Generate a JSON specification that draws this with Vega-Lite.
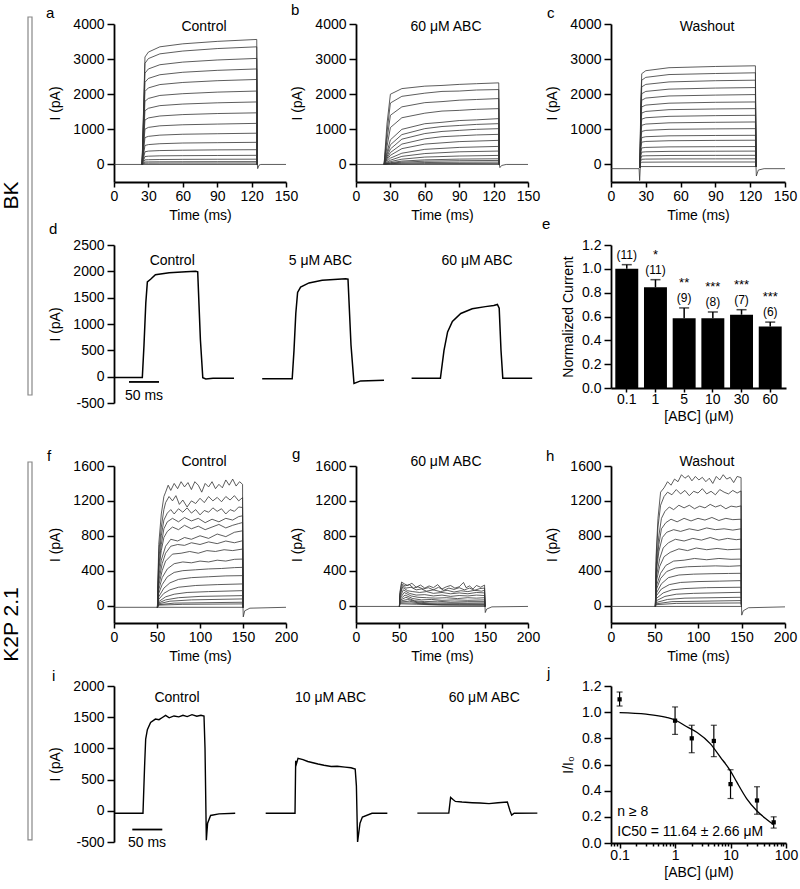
{
"$schema":"https://vega.github.io/schema/vega-lite/v6.json",
"padding":{"left":0,"top":3,"right":2,"bottom":2},
"background":"white",
"config":{
 "view":{"stroke":null},
 "font":"Liberation Sans",
 "axis":{"grid":false,"labelOverlap":false,"labelFlush":false,"domainColor":"#000","domainWidth":1.8,"tickColor":"#000","tickWidth":1.5,"tickSize":6,"labelColor":"#000","labelFont":"Liberation Sans","labelFontSize":14,"titleFont":"Liberation Sans","titleFontSize":14,"titleFontWeight":"normal","titleColor":"#000","labelPadding":2,"titlePadding":5},
 "axisX":{"tickSize":5},
 "axisY":{"tickSize":7,"labelPadding":3,"titlePadding":10},
 "title":{"font":"Liberation Sans","fontSize":15,"fontWeight":"normal","anchor":"start","frame":"group","color":"#000"},
 "text":{"font":"Liberation Sans","fontSize":14,"color":"#000"}
},
"datasets":{
"a":[
{"k":0,"t":0,"v":0},{"k":0,"t":125,"v":0},{"k":0,"t":125.3,"v":-120},{"k":0,"t":126.5,"v":-20},{"k":0,"t":128,"v":0},{"k":0,"t":150,"v":0},
{"k":1,"t":24.5,"v":0},{"k":1,"t":27,"v":3060},{"k":1,"t":30,"v":3200},{"k":1,"t":40,"v":3350},{"k":1,"t":60,"v":3435},{"k":1,"t":90,"v":3505},{"k":1,"t":124.5,"v":3560},{"k":1,"t":125,"v":0},
{"k":2,"t":24.5,"v":0},{"k":2,"t":27,"v":2880},{"k":2,"t":30,"v":3015},{"k":2,"t":40,"v":3150},{"k":2,"t":60,"v":3230},{"k":2,"t":90,"v":3300},{"k":2,"t":124.5,"v":3350},{"k":2,"t":125,"v":0},
{"k":3,"t":24.5,"v":0},{"k":3,"t":27,"v":2600},{"k":3,"t":30,"v":2720},{"k":3,"t":40,"v":2840},{"k":3,"t":60,"v":2915},{"k":3,"t":90,"v":2975},{"k":3,"t":124.5,"v":3020},{"k":3,"t":125,"v":0},
{"k":4,"t":24.5,"v":0},{"k":4,"t":27,"v":2340},{"k":4,"t":30,"v":2450},{"k":4,"t":40,"v":2555},{"k":4,"t":60,"v":2625},{"k":4,"t":90,"v":2680},{"k":4,"t":124.5,"v":2720},{"k":4,"t":125,"v":0},
{"k":5,"t":24.5,"v":0},{"k":5,"t":27,"v":2080},{"k":5,"t":30,"v":2180},{"k":5,"t":40,"v":2275},{"k":5,"t":60,"v":2335},{"k":5,"t":90,"v":2385},{"k":5,"t":124.5,"v":2420},{"k":5,"t":125,"v":0},
{"k":6,"t":24.5,"v":0},{"k":6,"t":27,"v":1800},{"k":6,"t":30,"v":1880},{"k":6,"t":40,"v":1965},{"k":6,"t":60,"v":2015},{"k":6,"t":90,"v":2060},{"k":6,"t":124.5,"v":2090},{"k":6,"t":125,"v":0},
{"k":7,"t":24.5,"v":0},{"k":7,"t":27,"v":1530},{"k":7,"t":30,"v":1600},{"k":7,"t":40,"v":1675},{"k":7,"t":60,"v":1720},{"k":7,"t":90,"v":1755},{"k":7,"t":124.5,"v":1780},{"k":7,"t":125,"v":0},
{"k":8,"t":24.5,"v":0},{"k":8,"t":27,"v":1265},{"k":8,"t":30,"v":1325},{"k":8,"t":40,"v":1380},{"k":8,"t":60,"v":1420},{"k":8,"t":90,"v":1450},{"k":8,"t":124.5,"v":1470},{"k":8,"t":125,"v":0},
{"k":9,"t":24.5,"v":0},{"k":9,"t":27,"v":1005},{"k":9,"t":30,"v":1055},{"k":9,"t":40,"v":1100},{"k":9,"t":60,"v":1130},{"k":9,"t":90,"v":1150},{"k":9,"t":124.5,"v":1170},{"k":9,"t":125,"v":0},
{"k":10,"t":24.5,"v":0},{"k":10,"t":27,"v":765},{"k":10,"t":30,"v":800},{"k":10,"t":40,"v":835},{"k":10,"t":60,"v":860},{"k":10,"t":90,"v":875},{"k":10,"t":124.5,"v":890},{"k":10,"t":125,"v":0},
{"k":11,"t":24.5,"v":0},{"k":11,"t":27,"v":540},{"k":11,"t":30,"v":565},{"k":11,"t":40,"v":590},{"k":11,"t":60,"v":610},{"k":11,"t":90,"v":620},{"k":11,"t":124.5,"v":630},{"k":11,"t":125,"v":0},
{"k":12,"t":24.5,"v":0},{"k":12,"t":27,"v":360},{"k":12,"t":30,"v":380},{"k":12,"t":40,"v":395},{"k":12,"t":60,"v":405},{"k":12,"t":90,"v":415},{"k":12,"t":124.5,"v":420},{"k":12,"t":125,"v":0},
{"k":13,"t":24.5,"v":0},{"k":13,"t":27,"v":225},{"k":13,"t":30,"v":235},{"k":13,"t":40,"v":245},{"k":13,"t":60,"v":250},{"k":13,"t":90,"v":255},{"k":13,"t":124.5,"v":260},{"k":13,"t":125,"v":0},
{"k":14,"t":24.5,"v":0},{"k":14,"t":27,"v":130},{"k":14,"t":30,"v":135},{"k":14,"t":40,"v":140},{"k":14,"t":60,"v":145},{"k":14,"t":90,"v":148},{"k":14,"t":124.5,"v":150},{"k":14,"t":125,"v":0},
{"k":15,"t":24.5,"v":0},{"k":15,"t":27,"v":70},{"k":15,"t":30,"v":72},{"k":15,"t":40,"v":75},{"k":15,"t":60,"v":77},{"k":15,"t":90,"v":79},{"k":15,"t":124.5,"v":80},{"k":15,"t":125,"v":0},
{"k":16,"t":24.5,"v":0},{"k":16,"t":27,"v":35},{"k":16,"t":30,"v":36},{"k":16,"t":40,"v":38},{"k":16,"t":60,"v":39},{"k":16,"t":90,"v":39},{"k":16,"t":124.5,"v":40},{"k":16,"t":125,"v":0}
],
"b":[
{"k":0,"t":0,"v":0},{"k":0,"t":125,"v":0},{"k":0,"t":125.5,"v":-90},{"k":0,"t":127,"v":-30},{"k":0,"t":131,"v":0},{"k":0,"t":150,"v":0},
{"k":1,"t":24.5,"v":0},{"k":1,"t":27,"v":1150},{"k":1,"t":30,"v":2000},{"k":1,"t":40,"v":2160},{"k":1,"t":60,"v":2230},{"k":1,"t":75,"v":2250},{"k":1,"t":90,"v":2280},{"k":1,"t":105,"v":2300},{"k":1,"t":124.5,"v":2324},{"k":1,"t":125,"v":0},
{"k":2,"t":24.5,"v":0},{"k":2,"t":27,"v":900},{"k":2,"t":30,"v":1750},{"k":2,"t":40,"v":1940},{"k":2,"t":60,"v":2030},{"k":2,"t":75,"v":2080},{"k":2,"t":90,"v":2090},{"k":2,"t":105,"v":2120},{"k":2,"t":124.5,"v":2133},{"k":2,"t":125,"v":0},
{"k":3,"t":24.5,"v":0},{"k":3,"t":27,"v":700},{"k":3,"t":30,"v":1400},{"k":3,"t":40,"v":1640},{"k":3,"t":60,"v":1760},{"k":3,"t":75,"v":1790},{"k":3,"t":90,"v":1830},{"k":3,"t":105,"v":1850},{"k":3,"t":124.5,"v":1876},{"k":3,"t":125,"v":0},
{"k":4,"t":24.5,"v":0},{"k":4,"t":27,"v":500},{"k":4,"t":30,"v":1050},{"k":4,"t":40,"v":1330},{"k":4,"t":60,"v":1460},{"k":4,"t":75,"v":1520},{"k":4,"t":90,"v":1540},{"k":4,"t":105,"v":1570},{"k":4,"t":124.5,"v":1590},{"k":4,"t":125,"v":0},
{"k":5,"t":24.5,"v":0},{"k":5,"t":27,"v":350},{"k":5,"t":30,"v":700},{"k":5,"t":40,"v":1000},{"k":5,"t":60,"v":1160},{"k":5,"t":75,"v":1200},{"k":5,"t":90,"v":1250},{"k":5,"t":105,"v":1270},{"k":5,"t":124.5,"v":1305},{"k":5,"t":125,"v":0},
{"k":6,"t":24.5,"v":0},{"k":6,"t":27,"v":280},{"k":6,"t":30,"v":560},{"k":6,"t":40,"v":850},{"k":6,"t":60,"v":1020},{"k":6,"t":75,"v":1080},{"k":6,"t":90,"v":1110},{"k":6,"t":105,"v":1140},{"k":6,"t":124.5,"v":1162},{"k":6,"t":125,"v":0},
{"k":7,"t":24.5,"v":0},{"k":7,"t":27,"v":220},{"k":7,"t":30,"v":440},{"k":7,"t":40,"v":720},{"k":7,"t":60,"v":880},{"k":7,"t":75,"v":940},{"k":7,"t":90,"v":970},{"k":7,"t":105,"v":1000},{"k":7,"t":124.5,"v":1019},{"k":7,"t":125,"v":0},
{"k":8,"t":24.5,"v":0},{"k":8,"t":27,"v":170},{"k":8,"t":30,"v":340},{"k":8,"t":40,"v":580},{"k":8,"t":60,"v":730},{"k":8,"t":75,"v":790},{"k":8,"t":90,"v":815},{"k":8,"t":105,"v":840},{"k":8,"t":124.5,"v":857},{"k":8,"t":125,"v":0},
{"k":9,"t":24.5,"v":0},{"k":9,"t":27,"v":130},{"k":9,"t":30,"v":260},{"k":9,"t":40,"v":450},{"k":9,"t":60,"v":580},{"k":9,"t":90,"v":650},{"k":9,"t":124.5,"v":686},{"k":9,"t":125,"v":0},
{"k":10,"t":24.5,"v":0},{"k":10,"t":27,"v":90},{"k":10,"t":30,"v":180},{"k":10,"t":40,"v":320},{"k":10,"t":60,"v":430},{"k":10,"t":90,"v":485},{"k":10,"t":124.5,"v":514},{"k":10,"t":125,"v":0},
{"k":11,"t":24.5,"v":0},{"k":11,"t":27,"v":60},{"k":11,"t":30,"v":120},{"k":11,"t":40,"v":230},{"k":11,"t":60,"v":310},{"k":11,"t":90,"v":360},{"k":11,"t":124.5,"v":381},{"k":11,"t":125,"v":0},
{"k":12,"t":24.5,"v":0},{"k":12,"t":27,"v":40},{"k":12,"t":30,"v":80},{"k":12,"t":40,"v":150},{"k":12,"t":60,"v":210},{"k":12,"t":90,"v":240},{"k":12,"t":124.5,"v":257},{"k":12,"t":125,"v":0},
{"k":13,"t":24.5,"v":0},{"k":13,"t":27,"v":25},{"k":13,"t":30,"v":50},{"k":13,"t":40,"v":95},{"k":13,"t":60,"v":130},{"k":13,"t":90,"v":152},{"k":13,"t":124.5,"v":162},{"k":13,"t":125,"v":0},
{"k":14,"t":24.5,"v":0},{"k":14,"t":27,"v":18},{"k":14,"t":30,"v":35},{"k":14,"t":40,"v":65},{"k":14,"t":60,"v":92},{"k":14,"t":90,"v":107},{"k":14,"t":124.5,"v":114},{"k":14,"t":125,"v":0},
{"k":15,"t":24.5,"v":0},{"k":15,"t":27,"v":10},{"k":15,"t":30,"v":20},{"k":15,"t":40,"v":38},{"k":15,"t":60,"v":54},{"k":15,"t":90,"v":63},{"k":15,"t":124.5,"v":67},{"k":15,"t":125,"v":0},
{"k":16,"t":24.5,"v":0},{"k":16,"t":30,"v":9},{"k":16,"t":60,"v":24},{"k":16,"t":124.5,"v":30},{"k":16,"t":125,"v":0}
],
"c":[
{"k":0,"t":0,"v":-120},{"k":0,"t":24.2,"v":-120},{"k":0,"t":24.7,"v":-460},{"k":0,"t":25.3,"v":-60},{"k":0,"t":125,"v":-60},{"k":0,"t":125.3,"v":-330},{"k":0,"t":127,"v":-160},{"k":0,"t":132,"v":-120},{"k":0,"t":150,"v":-120},
{"k":1,"t":25,"v":-100},{"k":1,"t":25.6,"v":1690},{"k":1,"t":26.5,"v":2585},{"k":1,"t":30,"v":2670},{"k":1,"t":50,"v":2755},{"k":1,"t":90,"v":2790},{"k":1,"t":124.5,"v":2810},{"k":1,"t":125,"v":-60},
{"k":2,"t":25,"v":-100},{"k":2,"t":25.6,"v":1565},{"k":2,"t":26.5,"v":2400},{"k":2,"t":30,"v":2480},{"k":2,"t":50,"v":2560},{"k":2,"t":90,"v":2590},{"k":2,"t":124.5,"v":2610},{"k":2,"t":125,"v":-60},
{"k":3,"t":25,"v":-100},{"k":3,"t":25.6,"v":1440},{"k":3,"t":26.5,"v":2210},{"k":3,"t":30,"v":2280},{"k":3,"t":50,"v":2350},{"k":3,"t":90,"v":2385},{"k":3,"t":124.5,"v":2400},{"k":3,"t":125,"v":-60},
{"k":4,"t":25,"v":-100},{"k":4,"t":25.6,"v":1315},{"k":4,"t":26.5,"v":2015},{"k":4,"t":30,"v":2080},{"k":4,"t":50,"v":2145},{"k":4,"t":90,"v":2175},{"k":4,"t":124.5,"v":2190},{"k":4,"t":125,"v":-60},
{"k":5,"t":25,"v":-100},{"k":5,"t":25.6,"v":1195},{"k":5,"t":26.5,"v":1830},{"k":5,"t":30,"v":1890},{"k":5,"t":50,"v":1950},{"k":5,"t":90,"v":1975},{"k":5,"t":124.5,"v":1990},{"k":5,"t":125,"v":-60},
{"k":6,"t":25,"v":-100},{"k":6,"t":25.6,"v":1070},{"k":6,"t":26.5,"v":1640},{"k":6,"t":30,"v":1690},{"k":6,"t":50,"v":1745},{"k":6,"t":90,"v":1770},{"k":6,"t":124.5,"v":1780},{"k":6,"t":125,"v":-60},
{"k":7,"t":25,"v":-100},{"k":7,"t":25.6,"v":955},{"k":7,"t":26.5,"v":1465},{"k":7,"t":30,"v":1510},{"k":7,"t":50,"v":1560},{"k":7,"t":90,"v":1580},{"k":7,"t":124.5,"v":1590},{"k":7,"t":125,"v":-60},
{"k":8,"t":25,"v":-100},{"k":8,"t":25.6,"v":840},{"k":8,"t":26.5,"v":1290},{"k":8,"t":30,"v":1330},{"k":8,"t":50,"v":1370},{"k":8,"t":90,"v":1390},{"k":8,"t":124.5,"v":1400},{"k":8,"t":125,"v":-60},
{"k":9,"t":25,"v":-100},{"k":9,"t":25.6,"v":725},{"k":9,"t":26.5,"v":1115},{"k":9,"t":30,"v":1150},{"k":9,"t":50,"v":1185},{"k":9,"t":90,"v":1200},{"k":9,"t":124.5,"v":1210},{"k":9,"t":125,"v":-60},
{"k":10,"t":25,"v":-100},{"k":10,"t":25.6,"v":610},{"k":10,"t":26.5,"v":940},{"k":10,"t":30,"v":970},{"k":10,"t":50,"v":1000},{"k":10,"t":90,"v":1013},{"k":10,"t":124.5,"v":1020},{"k":10,"t":125,"v":-60},
{"k":11,"t":25,"v":-100},{"k":11,"t":25.6,"v":500},{"k":11,"t":26.5,"v":765},{"k":11,"t":30,"v":790},{"k":11,"t":50,"v":815},{"k":11,"t":90,"v":825},{"k":11,"t":124.5,"v":830},{"k":11,"t":125,"v":-60},
{"k":12,"t":25,"v":-100},{"k":12,"t":25.6,"v":415},{"k":12,"t":26.5,"v":635},{"k":12,"t":30,"v":655},{"k":12,"t":50,"v":675},{"k":12,"t":90,"v":685},{"k":12,"t":124.5,"v":690},{"k":12,"t":125,"v":-60},
{"k":13,"t":25,"v":-100},{"k":13,"t":25.6,"v":305},{"k":13,"t":26.5,"v":470},{"k":13,"t":30,"v":485},{"k":13,"t":50,"v":500},{"k":13,"t":90,"v":506},{"k":13,"t":124.5,"v":510},{"k":13,"t":125,"v":-60},
{"k":14,"t":25,"v":-100},{"k":14,"t":25.6,"v":230},{"k":14,"t":26.5,"v":350},{"k":14,"t":30,"v":360},{"k":14,"t":50,"v":372},{"k":14,"t":90,"v":377},{"k":14,"t":124.5,"v":380},{"k":14,"t":125,"v":-60},
{"k":15,"t":25,"v":-100},{"k":15,"t":25.6,"v":155},{"k":15,"t":26.5,"v":240},{"k":15,"t":30,"v":247},{"k":15,"t":50,"v":255},{"k":15,"t":90,"v":258},{"k":15,"t":124.5,"v":260},{"k":15,"t":125,"v":-60},
{"k":16,"t":25,"v":-100},{"k":16,"t":25.6,"v":95},{"k":16,"t":26.5,"v":147},{"k":16,"t":30,"v":152},{"k":16,"t":50,"v":157},{"k":16,"t":90,"v":159},{"k":16,"t":124.5,"v":160},{"k":16,"t":125,"v":-60},
{"k":17,"t":25,"v":-100},{"k":17,"t":25.6,"v":40},{"k":17,"t":26.5,"v":64},{"k":17,"t":50,"v":68},{"k":17,"t":124.5,"v":70},{"k":17,"t":125,"v":-60}
],
"d":[
{"k":1,"t":0,"v":-15},{"k":1,"t":47.2,"v":-15},{"k":1,"t":50,"v":600},{"k":1,"t":53,"v":1400},{"k":1,"t":55.6,"v":1800},{"k":1,"t":61,"v":1850},{"k":1,"t":69,"v":1935},{"k":1,"t":92,"v":1975},{"k":1,"t":120,"v":1990},{"k":1,"t":136,"v":2000},{"k":1,"t":139.5,"v":1990},{"k":1,"t":144,"v":700},{"k":1,"t":148,"v":-20},{"k":1,"t":153,"v":-45},{"k":1,"t":165,"v":-30},{"k":1,"t":200,"v":-30},
{"k":2,"t":247,"v":-40},{"k":2,"t":297,"v":-40},{"k":2,"t":300,"v":500},{"k":2,"t":303,"v":1200},{"k":2,"t":306,"v":1600},{"k":2,"t":311,"v":1700},{"k":2,"t":325,"v":1780},{"k":2,"t":347,"v":1830},{"k":2,"t":386,"v":1860},{"k":2,"t":390,"v":1850},{"k":2,"t":395,"v":600},{"k":2,"t":400,"v":-130},{"k":2,"t":411,"v":-80},{"k":2,"t":450,"v":-70},
{"k":3,"t":496,"v":-30},{"k":3,"t":544,"v":-30},{"k":3,"t":550,"v":500},{"k":3,"t":556,"v":850},{"k":3,"t":564,"v":1050},{"k":3,"t":578,"v":1200},{"k":3,"t":597,"v":1290},{"k":3,"t":619,"v":1330},{"k":3,"t":633,"v":1350},{"k":3,"t":639,"v":1370},{"k":3,"t":642,"v":1300},{"k":3,"t":645,"v":500},{"k":3,"t":648,"v":-30},{"k":3,"t":697,"v":-30}
],
"e":[
{"c":"0.1","m":1.0,"hi":1.035,"n":"(11)","s":""},
{"c":"1","m":0.845,"hi":0.909,"n":"(11)","s":"*"},
{"c":"5","m":0.585,"hi":0.672,"n":"(9)","s":"**"},
{"c":"10","m":0.585,"hi":0.638,"n":"(8)","s":"***"},
{"c":"30","m":0.615,"hi":0.657,"n":"(7)","s":"***"},
{"c":"60","m":0.517,"hi":0.553,"n":"(6)","s":"***"}
],
"f":[
{"k":0,"t":0,"v":-20},{"k":0,"t":150,"v":-20},{"k":0,"t":150.3,"v":-130},{"k":0,"t":152,"v":-60},{"k":0,"t":158,"v":-30},{"k":0,"t":200,"v":-20},
{"k":1,"t":50.5,"v":-20},{"k":1,"t":52,"v":700},{"k":1,"t":55,"v":1050},{"k":1,"t":58,"v":1250},{"k":1,"t":60,"v":1300},{"k":1,"t":63,"v":1380},{"k":1,"t":66,"v":1320},{"k":1,"t":70,"v":1400},{"k":1,"t":74,"v":1340},{"k":1,"t":78,"v":1420},{"k":1,"t":82,"v":1360},{"k":1,"t":86,"v":1410},{"k":1,"t":90,"v":1330},{"k":1,"t":94,"v":1420},{"k":1,"t":98,"v":1380},{"k":1,"t":102,"v":1300},{"k":1,"t":106,"v":1400},{"k":1,"t":110,"v":1360},{"k":1,"t":114,"v":1420},{"k":1,"t":118,"v":1340},{"k":1,"t":122,"v":1390},{"k":1,"t":126,"v":1350},{"k":1,"t":130,"v":1440},{"k":1,"t":134,"v":1380},{"k":1,"t":138,"v":1450},{"k":1,"t":142,"v":1370},{"k":1,"t":146,"v":1420},{"k":1,"t":149.5,"v":1390},{"k":1,"t":150,"v":-20},
{"k":2,"t":50.5,"v":-20},{"k":2,"t":52,"v":600},{"k":2,"t":55,"v":900},{"k":2,"t":58,"v":1100},{"k":2,"t":60,"v":1180},{"k":2,"t":64,"v":1250},{"k":2,"t":68,"v":1200},{"k":2,"t":72,"v":1260},{"k":2,"t":76,"v":1160},{"k":2,"t":80,"v":1210},{"k":2,"t":85,"v":1130},{"k":2,"t":90,"v":1200},{"k":2,"t":95,"v":1170},{"k":2,"t":100,"v":1230},{"k":2,"t":105,"v":1180},{"k":2,"t":110,"v":1250},{"k":2,"t":115,"v":1200},{"k":2,"t":120,"v":1240},{"k":2,"t":125,"v":1190},{"k":2,"t":130,"v":1250},{"k":2,"t":135,"v":1210},{"k":2,"t":140,"v":1260},{"k":2,"t":145,"v":1200},{"k":2,"t":149.5,"v":1238},{"k":2,"t":150,"v":-20},
{"k":3,"t":50.5,"v":-20},{"k":3,"t":52,"v":520},{"k":3,"t":55,"v":800},{"k":3,"t":58,"v":980},{"k":3,"t":62,"v":1060},{"k":3,"t":66,"v":1100},{"k":3,"t":70,"v":1050},{"k":3,"t":75,"v":1110},{"k":3,"t":80,"v":1070},{"k":3,"t":85,"v":1120},{"k":3,"t":90,"v":1060},{"k":3,"t":95,"v":1100},{"k":3,"t":100,"v":1040},{"k":3,"t":105,"v":1090},{"k":3,"t":110,"v":1070},{"k":3,"t":115,"v":1120},{"k":3,"t":120,"v":1080},{"k":3,"t":125,"v":1110},{"k":3,"t":130,"v":1050},{"k":3,"t":135,"v":1100},{"k":3,"t":140,"v":1080},{"k":3,"t":145,"v":1130},{"k":3,"t":149.5,"v":1124},{"k":3,"t":150,"v":-20},
{"k":4,"t":50.5,"v":-20},{"k":4,"t":52,"v":450},{"k":4,"t":55,"v":700},{"k":4,"t":58,"v":880},{"k":4,"t":62,"v":960},{"k":4,"t":68,"v":1000},{"k":4,"t":75,"v":960},{"k":4,"t":82,"v":1010},{"k":4,"t":90,"v":970},{"k":4,"t":98,"v":1000},{"k":4,"t":106,"v":950},{"k":4,"t":114,"v":990},{"k":4,"t":122,"v":960},{"k":4,"t":130,"v":1000},{"k":4,"t":138,"v":980},{"k":4,"t":145,"v":1020},{"k":4,"t":149.5,"v":1029},{"k":4,"t":150,"v":-20},
{"k":5,"t":50.5,"v":-20},{"k":5,"t":52,"v":400},{"k":5,"t":55,"v":630},{"k":5,"t":58,"v":780},{"k":5,"t":62,"v":850},{"k":5,"t":68,"v":900},{"k":5,"t":75,"v":870},{"k":5,"t":82,"v":920},{"k":5,"t":90,"v":880},{"k":5,"t":98,"v":910},{"k":5,"t":106,"v":870},{"k":5,"t":114,"v":900},{"k":5,"t":122,"v":930},{"k":5,"t":130,"v":890},{"k":5,"t":138,"v":920},{"k":5,"t":145,"v":940},{"k":5,"t":149.5,"v":952},{"k":5,"t":150,"v":-20},
{"k":6,"t":50.5,"v":-20},{"k":6,"t":52,"v":330},{"k":6,"t":55,"v":520},{"k":6,"t":60,"v":680},{"k":6,"t":66,"v":760},{"k":6,"t":74,"v":740},{"k":6,"t":82,"v":780},{"k":6,"t":90,"v":760},{"k":6,"t":100,"v":800},{"k":6,"t":110,"v":770},{"k":6,"t":120,"v":820},{"k":6,"t":130,"v":790},{"k":6,"t":140,"v":840},{"k":6,"t":149.5,"v":857},{"k":6,"t":150,"v":-20},
{"k":7,"t":50.5,"v":-20},{"k":7,"t":52,"v":280},{"k":7,"t":56,"v":480},{"k":7,"t":60,"v":600},{"k":7,"t":66,"v":680},{"k":7,"t":74,"v":700},{"k":7,"t":82,"v":690},{"k":7,"t":90,"v":720},{"k":7,"t":100,"v":700},{"k":7,"t":110,"v":730},{"k":7,"t":120,"v":710},{"k":7,"t":130,"v":740},{"k":7,"t":140,"v":720},{"k":7,"t":149.5,"v":743},{"k":7,"t":150,"v":-20},
{"k":8,"t":50.5,"v":-20},{"k":8,"t":52,"v":230},{"k":8,"t":56,"v":400},{"k":8,"t":60,"v":510},{"k":8,"t":68,"v":590},{"k":8,"t":78,"v":600},{"k":8,"t":88,"v":620},{"k":8,"t":98,"v":600},{"k":8,"t":108,"v":630},{"k":8,"t":118,"v":620},{"k":8,"t":128,"v":640},{"k":8,"t":138,"v":630},{"k":8,"t":149.5,"v":648},{"k":8,"t":150,"v":-20},
{"k":9,"t":50.5,"v":-20},{"k":9,"t":52,"v":180},{"k":9,"t":56,"v":320},{"k":9,"t":62,"v":420},{"k":9,"t":70,"v":480},{"k":9,"t":80,"v":500},{"k":9,"t":90,"v":490},{"k":9,"t":100,"v":510},{"k":9,"t":110,"v":500},{"k":9,"t":120,"v":520},{"k":9,"t":130,"v":510},{"k":9,"t":140,"v":530},{"k":9,"t":149.5,"v":533},{"k":9,"t":150,"v":-20},
{"k":10,"t":50.5,"v":-20},{"k":10,"t":52,"v":140},{"k":10,"t":56,"v":240},{"k":10,"t":62,"v":330},{"k":10,"t":70,"v":380},{"k":10,"t":80,"v":400},{"k":10,"t":95,"v":410},{"k":10,"t":110,"v":420},{"k":10,"t":125,"v":425},{"k":10,"t":140,"v":435},{"k":10,"t":149.5,"v":438},{"k":10,"t":150,"v":-20},
{"k":11,"t":50.5,"v":-20},{"k":11,"t":52,"v":100},{"k":11,"t":58,"v":200},{"k":11,"t":65,"v":260},{"k":11,"t":75,"v":300},{"k":11,"t":90,"v":320},{"k":11,"t":110,"v":330},{"k":11,"t":130,"v":340},{"k":11,"t":149.5,"v":343},{"k":11,"t":150,"v":-20},
{"k":12,"t":50.5,"v":-20},{"k":12,"t":52,"v":70},{"k":12,"t":58,"v":140},{"k":12,"t":65,"v":180},{"k":12,"t":75,"v":210},{"k":12,"t":95,"v":230},{"k":12,"t":120,"v":240},{"k":12,"t":149.5,"v":248},{"k":12,"t":150,"v":-20},
{"k":13,"t":50.5,"v":-20},{"k":13,"t":52,"v":45},{"k":13,"t":60,"v":100},{"k":13,"t":70,"v":130},{"k":13,"t":85,"v":150},{"k":13,"t":110,"v":160},{"k":13,"t":149.5,"v":171},{"k":13,"t":150,"v":-20},
{"k":14,"t":50.5,"v":-20},{"k":14,"t":52,"v":30},{"k":14,"t":60,"v":65},{"k":14,"t":75,"v":90},{"k":14,"t":100,"v":105},{"k":14,"t":149.5,"v":114},{"k":14,"t":150,"v":-20},
{"k":15,"t":50.5,"v":-20},{"k":15,"t":52,"v":20},{"k":15,"t":65,"v":50},{"k":15,"t":90,"v":65},{"k":15,"t":149.5,"v":76},{"k":15,"t":150,"v":-20},
{"k":16,"t":50.5,"v":-20},{"k":16,"t":52,"v":10},{"k":16,"t":70,"v":28},{"k":16,"t":149.5,"v":38},{"k":16,"t":150,"v":-20},
{"k":17,"t":50.5,"v":-20},{"k":17,"t":52,"v":5},{"k":17,"t":80,"v":14},{"k":17,"t":149.5,"v":19},{"k":17,"t":150,"v":-20}
],
"g":[
{"k":0,"t":0,"v":-10},{"k":0,"t":150,"v":-10},{"k":0,"t":150.3,"v":-80},{"k":0,"t":152,"v":-40},{"k":0,"t":158,"v":-15},{"k":0,"t":200,"v":-10},
{"k":1,"t":50.5,"v":-10},{"k":1,"t":51,"v":150},{"k":1,"t":53,"v":270},{"k":1,"t":56,"v":250},{"k":1,"t":60,"v":230},{"k":1,"t":65,"v":255},{"k":1,"t":70,"v":210},{"k":1,"t":75,"v":235},{"k":1,"t":80,"v":200},{"k":1,"t":85,"v":225},{"k":1,"t":90,"v":205},{"k":1,"t":95,"v":240},{"k":1,"t":100,"v":190},{"k":1,"t":105,"v":215},{"k":1,"t":110,"v":230},{"k":1,"t":115,"v":200},{"k":1,"t":120,"v":215},{"k":1,"t":125,"v":265},{"k":1,"t":128,"v":205},{"k":1,"t":132,"v":225},{"k":1,"t":136,"v":190},{"k":1,"t":140,"v":230},{"k":1,"t":145,"v":210},{"k":1,"t":149.5,"v":235},{"k":1,"t":150,"v":-10},
{"k":2,"t":50.5,"v":-10},{"k":2,"t":51,"v":130},{"k":2,"t":53,"v":250},{"k":2,"t":57,"v":225},{"k":2,"t":62,"v":240},{"k":2,"t":67,"v":200},{"k":2,"t":72,"v":215},{"k":2,"t":78,"v":190},{"k":2,"t":84,"v":205},{"k":2,"t":90,"v":180},{"k":2,"t":96,"v":210},{"k":2,"t":102,"v":175},{"k":2,"t":108,"v":200},{"k":2,"t":114,"v":185},{"k":2,"t":120,"v":205},{"k":2,"t":126,"v":180},{"k":2,"t":132,"v":200},{"k":2,"t":138,"v":175},{"k":2,"t":144,"v":195},{"k":2,"t":149.5,"v":200},{"k":2,"t":150,"v":-10},
{"k":3,"t":50.5,"v":-10},{"k":3,"t":51,"v":120},{"k":3,"t":54,"v":230},{"k":3,"t":58,"v":200},{"k":3,"t":64,"v":210},{"k":3,"t":70,"v":180},{"k":3,"t":76,"v":190},{"k":3,"t":82,"v":165},{"k":3,"t":90,"v":180},{"k":3,"t":98,"v":160},{"k":3,"t":106,"v":175},{"k":3,"t":114,"v":155},{"k":3,"t":122,"v":170},{"k":3,"t":130,"v":160},{"k":3,"t":138,"v":175},{"k":3,"t":146,"v":165},{"k":3,"t":149.5,"v":175},{"k":3,"t":150,"v":-10},
{"k":4,"t":50.5,"v":-10},{"k":4,"t":51,"v":100},{"k":4,"t":54,"v":210},{"k":4,"t":60,"v":170},{"k":4,"t":66,"v":160},{"k":4,"t":74,"v":150},{"k":4,"t":82,"v":160},{"k":4,"t":90,"v":140},{"k":4,"t":100,"v":150},{"k":4,"t":110,"v":135},{"k":4,"t":120,"v":145},{"k":4,"t":130,"v":135},{"k":4,"t":140,"v":150},{"k":4,"t":149.5,"v":145},{"k":4,"t":150,"v":-10},
{"k":5,"t":50.5,"v":-10},{"k":5,"t":51,"v":90},{"k":5,"t":55,"v":180},{"k":5,"t":62,"v":140},{"k":5,"t":70,"v":120},{"k":5,"t":80,"v":125},{"k":5,"t":90,"v":110},{"k":5,"t":100,"v":120},{"k":5,"t":110,"v":105},{"k":5,"t":120,"v":115},{"k":5,"t":130,"v":110},{"k":5,"t":140,"v":120},{"k":5,"t":149.5,"v":115},{"k":5,"t":150,"v":-10},
{"k":6,"t":50.5,"v":-10},{"k":6,"t":51,"v":80},{"k":6,"t":56,"v":150},{"k":6,"t":64,"v":110},{"k":6,"t":72,"v":95},{"k":6,"t":82,"v":90},{"k":6,"t":92,"v":85},{"k":6,"t":105,"v":90},{"k":6,"t":118,"v":80},{"k":6,"t":130,"v":90},{"k":6,"t":140,"v":85},{"k":6,"t":149.5,"v":90},{"k":6,"t":150,"v":-10},
{"k":7,"t":50.5,"v":-10},{"k":7,"t":51,"v":70},{"k":7,"t":57,"v":120},{"k":7,"t":66,"v":80},{"k":7,"t":76,"v":65},{"k":7,"t":88,"v":70},{"k":7,"t":100,"v":60},{"k":7,"t":115,"v":65},{"k":7,"t":130,"v":60},{"k":7,"t":149.5,"v":65},{"k":7,"t":150,"v":-10},
{"k":8,"t":50.5,"v":-10},{"k":8,"t":51,"v":60},{"k":8,"t":58,"v":95},{"k":8,"t":68,"v":55},{"k":8,"t":80,"v":45},{"k":8,"t":95,"v":50},{"k":8,"t":110,"v":40},{"k":8,"t":130,"v":45},{"k":8,"t":149.5,"v":45},{"k":8,"t":150,"v":-10},
{"k":9,"t":50.5,"v":-10},{"k":9,"t":51,"v":50},{"k":9,"t":60,"v":70},{"k":9,"t":72,"v":40},{"k":9,"t":85,"v":30},{"k":9,"t":105,"v":30},{"k":9,"t":130,"v":28},{"k":9,"t":149.5,"v":30},{"k":9,"t":150,"v":-10},
{"k":10,"t":50.5,"v":-10},{"k":10,"t":51,"v":40},{"k":10,"t":62,"v":50},{"k":10,"t":76,"v":25},{"k":10,"t":95,"v":18},{"k":10,"t":120,"v":20},{"k":10,"t":149.5,"v":18},{"k":10,"t":150,"v":-10},
{"k":11,"t":50.5,"v":-10},{"k":11,"t":51,"v":30},{"k":11,"t":65,"v":30},{"k":11,"t":85,"v":12},{"k":11,"t":120,"v":10},{"k":11,"t":149.5,"v":10},{"k":11,"t":150,"v":-10},
{"k":12,"t":50.5,"v":-10},{"k":12,"t":51,"v":20},{"k":12,"t":70,"v":15},{"k":12,"t":100,"v":5},{"k":12,"t":149.5,"v":3},{"k":12,"t":150,"v":-10}
],
"h":[
{"k":0,"t":0,"v":-10},{"k":0,"t":150,"v":-10},{"k":0,"t":150.3,"v":-110},{"k":0,"t":152,"v":-60},{"k":0,"t":158,"v":-25},{"k":0,"t":200,"v":-15},
{"k":1,"t":51,"v":-10},{"k":1,"t":52,"v":600},{"k":1,"t":54,"v":1000},{"k":1,"t":57,"v":1300},{"k":1,"t":61,"v":1350},{"k":1,"t":65,"v":1420},{"k":1,"t":69,"v":1380},{"k":1,"t":73,"v":1450},{"k":1,"t":77,"v":1420},{"k":1,"t":81,"v":1500},{"k":1,"t":85,"v":1460},{"k":1,"t":89,"v":1490},{"k":1,"t":93,"v":1430},{"k":1,"t":97,"v":1480},{"k":1,"t":101,"v":1440},{"k":1,"t":105,"v":1470},{"k":1,"t":109,"v":1420},{"k":1,"t":113,"v":1460},{"k":1,"t":117,"v":1400},{"k":1,"t":121,"v":1480},{"k":1,"t":125,"v":1440},{"k":1,"t":129,"v":1500},{"k":1,"t":133,"v":1450},{"k":1,"t":137,"v":1470},{"k":1,"t":141,"v":1410},{"k":1,"t":145,"v":1480},{"k":1,"t":149.5,"v":1467},{"k":1,"t":150,"v":-10},
{"k":2,"t":51,"v":-10},{"k":2,"t":52,"v":550},{"k":2,"t":54,"v":900},{"k":2,"t":57,"v":1150},{"k":2,"t":61,"v":1250},{"k":2,"t":65,"v":1300},{"k":2,"t":70,"v":1270},{"k":2,"t":75,"v":1330},{"k":2,"t":80,"v":1280},{"k":2,"t":85,"v":1320},{"k":2,"t":90,"v":1260},{"k":2,"t":95,"v":1310},{"k":2,"t":100,"v":1290},{"k":2,"t":105,"v":1340},{"k":2,"t":110,"v":1280},{"k":2,"t":115,"v":1310},{"k":2,"t":120,"v":1270},{"k":2,"t":125,"v":1330},{"k":2,"t":130,"v":1300},{"k":2,"t":135,"v":1280},{"k":2,"t":140,"v":1320},{"k":2,"t":145,"v":1290},{"k":2,"t":149.5,"v":1314},{"k":2,"t":150,"v":-10},
{"k":3,"t":51,"v":-10},{"k":3,"t":52,"v":480},{"k":3,"t":55,"v":800},{"k":3,"t":58,"v":1000},{"k":3,"t":62,"v":1080},{"k":3,"t":67,"v":1130},{"k":3,"t":72,"v":1100},{"k":3,"t":78,"v":1150},{"k":3,"t":84,"v":1120},{"k":3,"t":90,"v":1150},{"k":3,"t":96,"v":1110},{"k":3,"t":102,"v":1140},{"k":3,"t":108,"v":1120},{"k":3,"t":114,"v":1160},{"k":3,"t":120,"v":1130},{"k":3,"t":126,"v":1150},{"k":3,"t":132,"v":1110},{"k":3,"t":138,"v":1140},{"k":3,"t":144,"v":1130},{"k":3,"t":149.5,"v":1143},{"k":3,"t":150,"v":-10},
{"k":4,"t":51,"v":-10},{"k":4,"t":52,"v":420},{"k":4,"t":55,"v":700},{"k":4,"t":58,"v":880},{"k":4,"t":63,"v":950},{"k":4,"t":69,"v":990},{"k":4,"t":76,"v":960},{"k":4,"t":84,"v":1000},{"k":4,"t":92,"v":970},{"k":4,"t":100,"v":1000},{"k":4,"t":108,"v":980},{"k":4,"t":116,"v":1010},{"k":4,"t":124,"v":975},{"k":4,"t":132,"v":1000},{"k":4,"t":140,"v":985},{"k":4,"t":149.5,"v":990},{"k":4,"t":150,"v":-10},
{"k":5,"t":51,"v":-10},{"k":5,"t":52,"v":380},{"k":5,"t":55,"v":620},{"k":5,"t":59,"v":780},{"k":5,"t":64,"v":840},{"k":5,"t":72,"v":870},{"k":5,"t":80,"v":850},{"k":5,"t":90,"v":880},{"k":5,"t":100,"v":860},{"k":5,"t":110,"v":890},{"k":5,"t":120,"v":870},{"k":5,"t":130,"v":880},{"k":5,"t":140,"v":865},{"k":5,"t":149.5,"v":880},{"k":5,"t":150,"v":-10},
{"k":6,"t":51,"v":-10},{"k":6,"t":52,"v":320},{"k":6,"t":56,"v":540},{"k":6,"t":60,"v":660},{"k":6,"t":66,"v":720},{"k":6,"t":74,"v":760},{"k":6,"t":84,"v":740},{"k":6,"t":94,"v":770},{"k":6,"t":104,"v":750},{"k":6,"t":114,"v":780},{"k":6,"t":124,"v":750},{"k":6,"t":134,"v":770},{"k":6,"t":144,"v":755},{"k":6,"t":149.5,"v":762},{"k":6,"t":150,"v":-10},
{"k":7,"t":51,"v":-10},{"k":7,"t":52,"v":270},{"k":7,"t":56,"v":450},{"k":7,"t":61,"v":560},{"k":7,"t":68,"v":610},{"k":7,"t":78,"v":650},{"k":7,"t":88,"v":630},{"k":7,"t":98,"v":660},{"k":7,"t":110,"v":640},{"k":7,"t":122,"v":655},{"k":7,"t":134,"v":640},{"k":7,"t":149.5,"v":648},{"k":7,"t":150,"v":-10},
{"k":8,"t":51,"v":-10},{"k":8,"t":52,"v":220},{"k":8,"t":57,"v":370},{"k":8,"t":63,"v":460},{"k":8,"t":72,"v":510},{"k":8,"t":84,"v":520},{"k":8,"t":96,"v":540},{"k":8,"t":110,"v":525},{"k":8,"t":124,"v":540},{"k":8,"t":138,"v":530},{"k":8,"t":149.5,"v":533},{"k":8,"t":150,"v":-10},
{"k":9,"t":51,"v":-10},{"k":9,"t":52,"v":180},{"k":9,"t":57,"v":310},{"k":9,"t":64,"v":390},{"k":9,"t":74,"v":430},{"k":9,"t":88,"v":445},{"k":9,"t":104,"v":450},{"k":9,"t":120,"v":455},{"k":9,"t":136,"v":450},{"k":9,"t":149.5,"v":457},{"k":9,"t":150,"v":-10},
{"k":10,"t":51,"v":-10},{"k":10,"t":52,"v":140},{"k":10,"t":58,"v":250},{"k":10,"t":66,"v":320},{"k":10,"t":78,"v":350},{"k":10,"t":95,"v":360},{"k":10,"t":115,"v":365},{"k":10,"t":135,"v":368},{"k":10,"t":149.5,"v":370},{"k":10,"t":150,"v":-10},
{"k":11,"t":51,"v":-10},{"k":11,"t":52,"v":110},{"k":11,"t":58,"v":190},{"k":11,"t":67,"v":240},{"k":11,"t":80,"v":265},{"k":11,"t":100,"v":275},{"k":11,"t":125,"v":280},{"k":11,"t":149.5,"v":286},{"k":11,"t":150,"v":-10},
{"k":12,"t":51,"v":-10},{"k":12,"t":52,"v":80},{"k":12,"t":60,"v":145},{"k":12,"t":70,"v":180},{"k":12,"t":85,"v":195},{"k":12,"t":110,"v":205},{"k":12,"t":149.5,"v":210},{"k":12,"t":150,"v":-10},
{"k":13,"t":51,"v":-10},{"k":13,"t":52,"v":55},{"k":13,"t":62,"v":105},{"k":13,"t":75,"v":130},{"k":13,"t":95,"v":140},{"k":13,"t":149.5,"v":152},{"k":13,"t":150,"v":-10},
{"k":14,"t":51,"v":-10},{"k":14,"t":52,"v":35},{"k":14,"t":65,"v":70},{"k":14,"t":85,"v":85},{"k":14,"t":149.5,"v":95},{"k":14,"t":150,"v":-10},
{"k":15,"t":51,"v":-10},{"k":15,"t":52,"v":20},{"k":15,"t":70,"v":45},{"k":15,"t":149.5,"v":57},{"k":15,"t":150,"v":-10},
{"k":16,"t":51,"v":-10},{"k":16,"t":52,"v":10},{"k":16,"t":75,"v":25},{"k":16,"t":149.5,"v":30},{"k":16,"t":150,"v":-10}
],
"i":[
{"k":1,"t":0,"v":-40},{"k":1,"t":48.3,"v":-40},{"k":1,"t":51,"v":720},{"k":1,"t":52.8,"v":1150},{"k":1,"t":55.6,"v":1300},{"k":1,"t":61,"v":1415},{"k":1,"t":69,"v":1470},{"k":1,"t":75,"v":1460},{"k":1,"t":80.6,"v":1495},{"k":1,"t":86,"v":1530},{"k":1,"t":92,"v":1490},{"k":1,"t":100,"v":1520},{"k":1,"t":108,"v":1505},{"k":1,"t":115,"v":1530},{"k":1,"t":122,"v":1510},{"k":1,"t":130,"v":1540},{"k":1,"t":138,"v":1515},{"k":1,"t":145,"v":1530},{"k":1,"t":150,"v":1520},{"k":1,"t":151.7,"v":1000},{"k":1,"t":153.9,"v":-470},{"k":1,"t":156,"v":-200},{"k":1,"t":161,"v":-75},{"k":1,"t":175,"v":-50},{"k":1,"t":202,"v":-40},
{"k":2,"t":252.8,"v":-40},{"k":2,"t":301.7,"v":-40},{"k":2,"t":302.8,"v":800},{"k":2,"t":304,"v":750},{"k":2,"t":306.7,"v":840},{"k":2,"t":315,"v":820},{"k":2,"t":323,"v":790},{"k":2,"t":340,"v":750},{"k":2,"t":350,"v":730},{"k":2,"t":362,"v":710},{"k":2,"t":372,"v":715},{"k":2,"t":385,"v":700},{"k":2,"t":395,"v":690},{"k":2,"t":402,"v":670},{"k":2,"t":404,"v":400},{"k":2,"t":406,"v":-500},{"k":2,"t":410,"v":-200},{"k":2,"t":414,"v":-100},{"k":2,"t":430,"v":-40},{"k":2,"t":455.6,"v":-40},
{"k":3,"t":505.6,"v":-37},{"k":3,"t":558,"v":-37},{"k":3,"t":561,"v":215},{"k":3,"t":565,"v":180},{"k":3,"t":569,"v":150},{"k":3,"t":580,"v":140},{"k":3,"t":597,"v":130},{"k":3,"t":610,"v":125},{"k":3,"t":625,"v":115},{"k":3,"t":640,"v":130},{"k":3,"t":655.6,"v":140},{"k":3,"t":660,"v":0},{"k":3,"t":662.8,"v":-70},{"k":3,"t":667,"v":-40},{"k":3,"t":705.6,"v":-37}
],
"j":[
{"x":0.1,"m":1.098,"lo":1.047,"hi":1.154},
{"x":1,"m":0.935,"lo":0.83,"hi":1.04},
{"x":2,"m":0.8,"lo":0.69,"hi":0.9},
{"x":5,"m":0.78,"lo":0.66,"hi":0.9},
{"x":10,"m":0.45,"lo":0.34,"hi":0.56},
{"x":30,"m":0.325,"lo":0.22,"hi":0.43},
{"x":60,"m":0.158,"lo":0.114,"hi":0.2}
],
"jfit":[
{"x":0.1,"y":0.997},{"x":0.3,"y":0.985},{"x":0.7,"y":0.96},{"x":1,"y":0.94},{"x":1.6,"y":0.89},{"x":2.5,"y":0.845},{"x":4.3,"y":0.76},{"x":6.6,"y":0.655},{"x":10,"y":0.55},{"x":13,"y":0.465},{"x":19.5,"y":0.34},{"x":30,"y":0.245},{"x":45,"y":0.18},{"x":60,"y":0.14}
]
},
"columns":7,"align":"each","bounds":"flush","spacing":{"row":63,"column":0},
"concat":[
 {"width":4,"height":158,"data":{"values":[{}]},"mark":{"type":"rect","fill":"white","stroke":"#888","strokeWidth":1.2},
  "encoding":{"x":{"datum":0,"type":"quantitative","scale":{"domain":[0,1],"nice":false},"axis":null},"x2":{"datum":1},
   "y":{"datum":-0.0443,"type":"quantitative","scale":{"domain":[0,1],"reverse":true,"nice":false,"zero":false},"axis":{"title":"BK","domain":false,"ticks":false,"labels":false,"titleFontSize":21,"titlePadding":7,"titleY":171}},"y2":{"datum":2.348}}},
 {"width":82,"height":1,"data":{"values":[]},"mark":"point"},
 {"width":172,"height":158,
  "layer":[
   {"data":{"name":"a"},"mark":{"type":"line","strokeWidth":0.8,"color":"#333"},
    "encoding":{"x":{"field":"t","type":"quantitative","scale":{"domain":[0,150],"nice":false},"axis":{"values":[0,30,60,90,120,150],"tickCount":50,"title":"Time (ms)"}},
     "y":{"field":"v","type":"quantitative","scale":{"domain":[-500,4000],"nice":false},"axis":{"values":[0,1000,2000,3000,4000],"tickCount":50,"format":"d","title":"I (pA)"}},
     "detail":{"field":"k","type":"nominal"}}},
   {"data":{"values":[{}]},"mark":{"type":"text"},"encoding":{"x":{"datum":78.5},"y":{"datum":3914},"text":{"value":"Control"}}},
   {"data":{"values":[{}]},"mark":{"type":"text","fontSize":15,"align":"left","baseline":"alphabetic"},"encoding":{"x":{"datum":-59.3},"y":{"datum":4157},"text":{"value":"a"}}}
  ]},
 {"width":70,"height":1,"data":{"values":[]},"mark":"point"},
 {"width":172,"height":158,
  "layer":[
   {"data":{"name":"b"},"mark":{"type":"line","strokeWidth":0.8,"color":"#333"},
    "encoding":{"x":{"field":"t","type":"quantitative","scale":{"domain":[0,150],"nice":false},"axis":{"values":[0,30,60,90,120,150],"tickCount":50,"title":"Time (ms)"}},
     "y":{"field":"v","type":"quantitative","scale":{"domain":[-500,4000],"nice":false},"axis":{"values":[0,1000,2000,3000,4000],"tickCount":50,"format":"d","title":"I (pA)"}},
     "detail":{"field":"k","type":"nominal"}}},
   {"data":{"values":[{}]},"mark":{"type":"text"},"encoding":{"x":{"datum":78.5},"y":{"datum":3914},"text":{"value":"60 μM ABC"}}},
   {"data":{"values":[{}]},"mark":{"type":"text","fontSize":15,"align":"left","baseline":"alphabetic"},"encoding":{"x":{"datum":-56.7},"y":{"datum":4256},"text":{"value":"b"}}}
  ]},
 {"width":83,"height":1,"data":{"values":[]},"mark":"point"},
 {"width":174,"height":158,
  "layer":[
   {"data":{"name":"c"},"mark":{"type":"line","strokeWidth":0.8,"color":"#333"},
    "encoding":{"x":{"field":"t","type":"quantitative","scale":{"domain":[0,150],"nice":false},"axis":{"values":[0,30,60,90,120,150],"tickCount":50,"title":"Time (ms)"}},
     "y":{"field":"v","type":"quantitative","scale":{"domain":[-500,4000],"nice":false},"axis":{"values":[0,1000,2000,3000,4000],"tickCount":50,"format":"d","title":"I (pA)"}},
     "detail":{"field":"k","type":"nominal"}}},
   {"data":{"values":[{}]},"mark":{"type":"text"},"encoding":{"x":{"datum":82.8},"y":{"datum":3914},"text":{"value":"Washout"}}},
   {"data":{"values":[{}]},"mark":{"type":"text","fontSize":15,"align":"left","baseline":"alphabetic"},"encoding":{"x":{"datum":-55.2},"y":{"datum":4171},"text":{"value":"c"}}}
  ]},

 {"width":1,"height":1,"data":{"values":[]},"mark":"point"},
 {"width":1,"height":1,"data":{"values":[]},"mark":"point"},
 {"width":172,"height":158,
  "layer":[
   {"data":{"name":"d"},"mark":{"type":"line","strokeWidth":1.5,"color":"#000"},
    "encoding":{"x":{"field":"t","type":"quantitative","scale":{"domain":[0,286.67],"nice":false},"axis":null},
     "y":{"field":"v","type":"quantitative","scale":{"domain":[-500,2500],"nice":false},"axis":{"values":[-500,0,500,1000,1500,2000,2500],"tickCount":50,"format":"d","labelExpr":"replace(datum.label, '\u2212', '-')","title":"I (pA)"}},
     "detail":{"field":"k","type":"nominal"}}},
   {"data":{"values":[{}]},"mark":{"type":"rule","strokeWidth":1.8,"color":"#000"},"encoding":{"x":{"datum":25},"x2":{"datum":75},"y":{"datum":-100}}},
   {"data":{"values":[{}]},"mark":{"type":"text"},"encoding":{"x":{"datum":50},"y":{"datum":-365},"text":{"value":"50 ms"}}},
   {"data":{"values":[{}]},"mark":{"type":"text"},"encoding":{"x":{"datum":97},"y":{"datum":2200},"text":{"value":"Control"}}},
   {"data":{"values":[{}]},"mark":{"type":"text"},"encoding":{"x":{"datum":344},"y":{"datum":2200},"text":{"value":"5 μM ABC"}}},
   {"data":{"values":[{}]},"mark":{"type":"text"},"encoding":{"x":{"datum":605},"y":{"datum":2200},"text":{"value":"60 μM ABC"}}},
   {"data":{"values":[{}]},"mark":{"type":"text","fontSize":15,"align":"left","baseline":"alphabetic"},"encoding":{"x":{"datum":-108.3},"y":{"datum":2709},"text":{"value":"d"}}}
  ]},
 {"width":1,"height":1,"data":{"values":[]},"mark":"point"},
 {"width":1,"height":1,"data":{"values":[]},"mark":"point"},
 {"width":1,"height":1,"data":{"values":[]},"mark":"point"},
 {"width":175,"height":143,"title":{"text":"e","dx":-69,"offset":2},
  "data":{"name":"e"},
  "encoding":{"x":{"field":"c","type":"nominal","sort":null,"scale":{"paddingInner":0.2,"paddingOuter":0.15},"axis":{"labelAngle":0,"title":"[ABC] (μM)","tickSize":4,"labelPadding":0,"titlePadding":3}}},
  "layer":[
   {"mark":{"type":"bar","color":"#000"},"encoding":{"y":{"field":"m","type":"quantitative","scale":{"domain":[0,1.2],"nice":false},"axis":{"values":[0,0.2,0.4,0.6,0.8,1.0,1.2],"tickCount":50,"format":".1f","title":"Normalized Current","titlePadding":6}}}},
   {"mark":{"type":"rule","color":"#000","strokeWidth":1.5},"encoding":{"y":{"field":"m","type":"quantitative"},"y2":{"field":"hi"}}},
   {"mark":{"type":"tick","color":"#000","size":10,"thickness":1.5,"orient":"horizontal"},"encoding":{"y":{"field":"hi","type":"quantitative"}}},
   {"mark":{"type":"text","fontSize":12,"dy":-10},"encoding":{"y":{"field":"hi","type":"quantitative"},"text":{"field":"n"}}},
   {"mark":{"type":"text","fontSize":13,"dy":-25},"encoding":{"y":{"field":"hi","type":"quantitative"},"text":{"field":"s"}}}
  ]},

 {"width":4,"height":157,"data":{"values":[{}]},"mark":{"type":"rect","fill":"white","stroke":"#888","strokeWidth":1.2},
  "encoding":{"x":{"datum":0,"type":"quantitative","scale":{"domain":[0,1],"nice":false},"axis":null},"x2":{"datum":1},
   "y":{"datum":-0.0255,"type":"quantitative","scale":{"domain":[0,1],"reverse":true,"nice":false,"zero":false},"axis":{"title":"K2P 2.1","domain":false,"ticks":false,"labels":false,"titleFontSize":21,"titlePadding":7,"titleY":158}},"y2":{"datum":2.382}}},
 {"width":1,"height":1,"data":{"values":[]},"mark":"point"},
 {"width":172,"height":157,
  "layer":[
   {"data":{"name":"f"},"mark":{"type":"line","strokeWidth":0.8,"color":"#333"},
    "encoding":{"x":{"field":"t","type":"quantitative","scale":{"domain":[0,200],"nice":false},"axis":{"values":[0,50,100,150,200],"tickCount":50,"title":"Time (ms)"}},
     "y":{"field":"v","type":"quantitative","scale":{"domain":[-200,1600],"nice":false},"axis":{"values":[0,400,800,1200,1600],"tickCount":50,"format":"d","title":"I (pA)"}},
     "detail":{"field":"k","type":"nominal"}}},
   {"data":{"values":[{}]},"mark":{"type":"text"},"encoding":{"x":{"datum":104.6},"y":{"datum":1650},"text":{"value":"Control"}}},
   {"data":{"values":[{}]},"mark":{"type":"text","fontSize":15,"align":"left","baseline":"alphabetic"},"encoding":{"x":{"datum":-77.9},"y":{"datum":1657},"text":{"value":"f"}}}
  ]},
 {"width":1,"height":1,"data":{"values":[]},"mark":"point"},
 {"width":172,"height":157,
  "layer":[
   {"data":{"name":"g"},"mark":{"type":"line","strokeWidth":0.8,"color":"#333"},
    "encoding":{"x":{"field":"t","type":"quantitative","scale":{"domain":[0,200],"nice":false},"axis":{"values":[0,50,100,150,200],"tickCount":50,"title":"Time (ms)"}},
     "y":{"field":"v","type":"quantitative","scale":{"domain":[-200,1600],"nice":false},"axis":{"values":[0,400,800,1200,1600],"tickCount":50,"format":"d","title":"I (pA)"}},
     "detail":{"field":"k","type":"nominal"}}},
   {"data":{"values":[{}]},"mark":{"type":"text"},"encoding":{"x":{"datum":104.6},"y":{"datum":1650},"text":{"value":"60 μM ABC"}}},
   {"data":{"values":[{}]},"mark":{"type":"text","fontSize":15,"align":"left","baseline":"alphabetic"},"encoding":{"x":{"datum":-74.4},"y":{"datum":1680},"text":{"value":"g"}}}
  ]},
 {"width":1,"height":1,"data":{"values":[]},"mark":"point"},
 {"width":174,"height":157,
  "layer":[
   {"data":{"name":"h"},"mark":{"type":"line","strokeWidth":0.8,"color":"#333"},
    "encoding":{"x":{"field":"t","type":"quantitative","scale":{"domain":[0,200],"nice":false},"axis":{"values":[0,50,100,150,200],"tickCount":50,"title":"Time (ms)"}},
     "y":{"field":"v","type":"quantitative","scale":{"domain":[-200,1600],"nice":false},"axis":{"values":[0,400,800,1200,1600],"tickCount":50,"format":"d","title":"I (pA)"}},
     "detail":{"field":"k","type":"nominal"}}},
   {"data":{"values":[{}]},"mark":{"type":"text"},"encoding":{"x":{"datum":110.3},"y":{"datum":1650},"text":{"value":"Washout"}}},
   {"data":{"values":[{}]},"mark":{"type":"text","fontSize":15,"align":"left","baseline":"alphabetic"},"encoding":{"x":{"datum":-74.7},"y":{"datum":1657},"text":{"value":"h"}}}
  ]},

 {"width":1,"height":1,"data":{"values":[]},"mark":"point"},
 {"width":1,"height":1,"data":{"values":[]},"mark":"point"},
 {"width":172,"height":156,
  "layer":[
   {"data":{"name":"i"},"mark":{"type":"line","strokeWidth":1.4,"color":"#000"},
    "encoding":{"x":{"field":"t","type":"quantitative","scale":{"domain":[0,286.67],"nice":false},"axis":null},
     "y":{"field":"v","type":"quantitative","scale":{"domain":[-500,2000],"nice":false},"axis":{"values":[-500,0,500,1000,1500,2000],"tickCount":50,"format":"d","labelExpr":"replace(datum.label, '\u2212', '-')","title":"I (pA)"}},
     "detail":{"field":"k","type":"nominal"}}},
   {"data":{"values":[{}]},"mark":{"type":"rule","strokeWidth":1.8,"color":"#000"},"encoding":{"x":{"datum":30.5},"x2":{"datum":80.5},"y":{"datum":-300}}},
   {"data":{"values":[{}]},"mark":{"type":"text"},"encoding":{"x":{"datum":55},"y":{"datum":-510},"text":{"value":"50 ms"}}},
   {"data":{"values":[{}]},"mark":{"type":"text"},"encoding":{"x":{"datum":105},"y":{"datum":1800},"text":{"value":"Control"}}},
   {"data":{"values":[{}]},"mark":{"type":"text"},"encoding":{"x":{"datum":361},"y":{"datum":1800},"text":{"value":"10 μM ABC"}}},
   {"data":{"values":[{}]},"mark":{"type":"text"},"encoding":{"x":{"datum":617},"y":{"datum":1800},"text":{"value":"60 μM ABC"}}},
   {"data":{"values":[{}]},"mark":{"type":"text","fontSize":15,"align":"left","baseline":"alphabetic"},"encoding":{"x":{"datum":-103.3},"y":{"datum":2080},"text":{"value":"i"}}}
  ]},
 {"width":1,"height":1,"data":{"values":[]},"mark":"point"},
 {"width":1,"height":1,"data":{"values":[]},"mark":"point"},
 {"width":1,"height":1,"data":{"values":[]},"mark":"point"},
 {"width":175,"height":157,"title":{"text":"j","dx":-64,"offset":-2},
  "layer":[
   {"data":{"name":"jfit"},"mark":{"type":"line","strokeWidth":1.3,"color":"#000","interpolate":"monotone"},
    "encoding":{"x":{"field":"x","type":"quantitative","scale":{"type":"log","domain":[0.07,100],"nice":false},
      "axis":{"values":[0.07,0.08,0.09,0.1,0.2,0.3,0.4,0.5,0.6,0.7,0.8,0.9,1,2,3,4,5,6,7,8,9,10,20,30,40,50,60,70,80,90,100],
       "tickCount":100,
       "labelExpr":"datum.value==0.1?'0.1':datum.value==1?'1':datum.value==10?'10':datum.value==100?'100':''",
       "tickSize":{"condition":{"test":"datum.value==0.1||datum.value==1||datum.value==10||datum.value==100","value":5},"value":3},
       "labelPadding":0,"title":"[ABC] (μM)","titlePadding":3}},
     "y":{"field":"y","type":"quantitative","scale":{"domain":[0,1.2],"nice":false},"axis":{"values":[0,0.2,0.4,0.6,0.8,1.0,1.2],"tickCount":50,"format":".1f","title":"I/I₀","titlePadding":6}}}},
   {"data":{"name":"j"},"mark":{"type":"rule","color":"#000","strokeWidth":1.2},"encoding":{"x":{"field":"x","type":"quantitative"},"y":{"field":"lo","type":"quantitative"},"y2":{"field":"hi"}}},
   {"data":{"name":"j"},"mark":{"type":"tick","color":"#000","size":6,"thickness":1.2,"orient":"horizontal"},"encoding":{"x":{"field":"x","type":"quantitative"},"y":{"field":"lo","type":"quantitative"}}},
   {"data":{"name":"j"},"mark":{"type":"tick","color":"#000","size":6,"thickness":1.2,"orient":"horizontal"},"encoding":{"x":{"field":"x","type":"quantitative"},"y":{"field":"hi","type":"quantitative"}}},
   {"data":{"name":"j"},"mark":{"type":"point","shape":"square","filled":true,"color":"#000","size":18,"opacity":1},"encoding":{"x":{"field":"x","type":"quantitative"},"y":{"field":"m","type":"quantitative"}}},
   {"data":{"values":[{}]},"mark":{"type":"text","align":"left"},"encoding":{"x":{"datum":0.0909},"y":{"datum":0.237},"text":{"value":"n ≥ 8"}}},
   {"data":{"values":[{}]},"mark":{"type":"text","align":"left"},"encoding":{"x":{"datum":0.0909},"y":{"datum":0.084},"text":{"value":"IC50 = 11.64 ± 2.66 μM"}}}
  ]}
]
}
